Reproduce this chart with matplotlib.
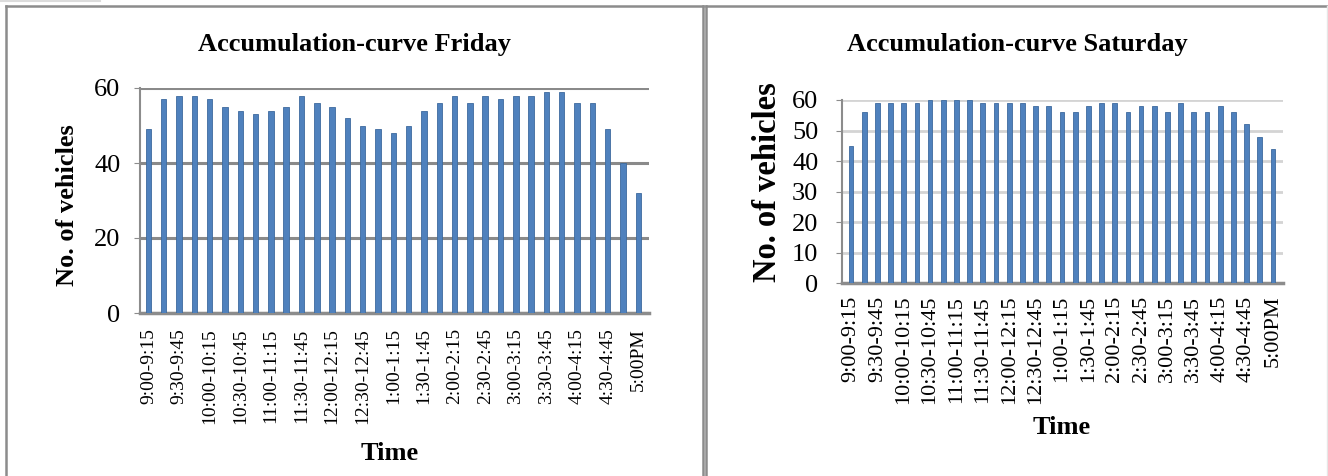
import matplotlib
matplotlib.use('Agg')
import matplotlib.pyplot as plt
from matplotlib.lines import Line2D

# dados
horarios = ['9:00-9:15', '9:15-9:30', '9:30-9:45', '9:45-10:00', '10:00-10:15', '10:15-10:30',
            '10:30-10:45', '10:45-11:00', '11:00-11:15', '11:15-11:30', '11:30-11:45', '11:45-12:00',
            '12:00-12:15', '12:15-12:30', '12:30-12:45', '12:45-1:00', '1:00-1:15', '1:15-1:30',
            '1:30-1:45', '1:45-2:00', '2:00-2:15', '2:15-2:30', '2:30-2:45', '2:45-3:00',
            '3:00-3:15', '3:15-3:30', '3:30-3:45', '3:45-4:00', '4:00-4:15', '4:15-4:30',
            '4:30-4:45', '4:45-5:00', '5:00PM']
sexta = [49, 57, 58, 58, 57, 55, 54, 53, 54, 55, 58, 56, 55, 52, 50, 49, 48,
         50, 54, 56, 58, 56, 58, 57, 58, 58, 59, 59, 56, 56, 49, 40, 32]
sabado = [45, 56, 59, 59, 59, 59, 60, 60, 60, 60, 59, 59, 59, 59, 58, 58, 56,
          56, 58, 59, 59, 56, 58, 58, 56, 59, 56, 56, 58, 56, 52, 48, 44]

plt.rcParams['font.family'] = 'Liberation Serif'
W, H = 1328.0, 476.0

fig = plt.figure(figsize=(13.28, 4.76), dpi=100)

def fx(px):
    return px / W

def fy(py):
    return 1 - py / H

# molduras dos paineis
cor_borda = '#8c8c8c'
for xs, ys in [([6, 6], [5.5, 476]), ([6, 703], [5.5, 5.5]), ([703, 703], [5.5, 476]),
               ([706, 706], [5.5, 476]), ([706, 1328], [5.5, 5.5])]:
    fig.add_artist(Line2D([fx(x) for x in xs], [fy(y) for y in ys], color=cor_borda, lw=1.8))
fig.add_artist(Line2D([fx(1327), fx(1327)], [fy(5.5), fy(476)], color='#e6e6e6', lw=1))
fig.add_artist(Line2D([0, fx(100)], [fy(1), fy(1)], color='#dcdcdc', lw=1.5))

x = list(range(len(horarios)))
rotulos = [h if i % 2 == 0 else '' for i, h in enumerate(horarios)]

def grafico(ax, dados, passo, xlim, cor_grade, lw_grade, fs_x, pad_x, pad_y):
    ax.bar(x, dados, width=0.36, color='#4F81BD', edgecolor='#3d6a9e', linewidth=0.6, zorder=3)
    ax.set_xlim(*xlim)
    ax.set_ylim(0, 60)
    ax.set_yticks(range(0, 61, passo))
    ax.set_xticks(x)
    ax.set_xticklabels(rotulos, rotation=90, fontsize=fs_x, va='top', ha='center')
    ax.tick_params(axis='x', length=0, pad=pad_x)
    ax.tick_params(axis='y', labelsize=19, length=4, color=cor_borda, pad=pad_y)
    ax.yaxis.grid(True, color=cor_grade, lw=lw_grade, zorder=0)
    ax.set_axisbelow(True)
    for s in ['top', 'right']:
        ax.spines[s].set_visible(False)
    ax.spines['left'].set_color(cor_borda)
    ax.spines['left'].set_linewidth(1.5)
    ax.spines['bottom'].set_color(cor_borda)
    ax.spines['bottom'].set_linewidth(2.5)

ax1 = fig.add_axes([fx(140), fy(313), fx(649 - 140), (313 - 88) / H])
grafico(ax1, sexta, 20, (-0.55, 32.7), '#8a8a8a', 2.2, 14, 11, 10)

ax2 = fig.add_axes([fx(842), fy(283.3), fx(1283 - 842), (283.3 - 100) / H])
grafico(ax2, sabado, 10, (-0.68, 32.76), '#d4d4d4', 2.0, 16, 9, 13)

fig.text(fx(355), fy(45), 'Accumulation-curve Friday', fontsize=19, fontweight='bold',
         ha='center', va='center')
fig.text(fx(1017), fy(45), 'Accumulation-curve Saturday', fontsize=19, fontweight='bold',
         ha='center', va='center')
fig.text(fx(68), fy(205), 'No. of vehicles', fontsize=19, fontweight='bold',
         rotation=90, ha='center', va='center')
fig.text(fx(768), fy(182), 'No. of vehicles', fontsize=23.5, fontweight='bold',
         rotation=90, ha='center', va='center')
fig.text(fx(390), fy(453), 'Time', fontsize=19, fontweight='bold', ha='center', va='center')
fig.text(fx(1062), fy(428), 'Time', fontsize=19, fontweight='bold', ha='center', va='center')

fig.savefig('out.png', dpi=100)
